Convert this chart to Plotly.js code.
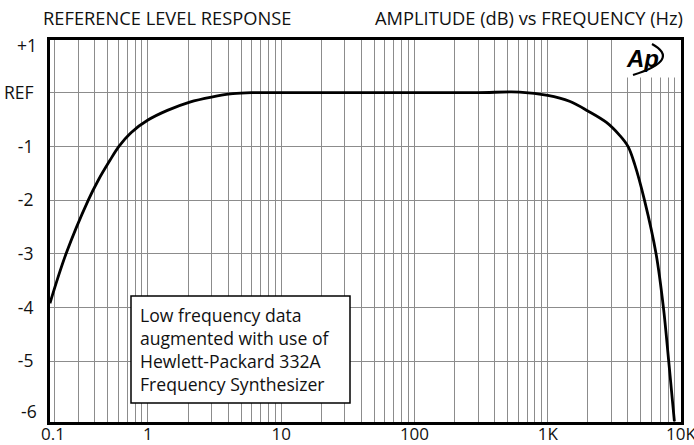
<!DOCTYPE html>
<html>
<head>
<meta charset="utf-8">
<script src="https://cdn.plot.ly/plotly-3.0.1.min.js"></script>
<style>
  html, body { margin: 0; padding: 0; background: #ffffff; }
  #chart { width: 694px; height: 445px; }
</style>
</head>
<body>
<div id="chart"></div>
<script>
// ---- data ----
const freqHz = [0.184, 0.243, 0.357, 0.424, 0.519, 0.606, 0.75, 1.0, 1.4, 2.06, 3.0, 4.34, 6, 10, 30, 100, 300, 615, 1000, 1457, 2000, 2743, 3453, 4000, 4500, 5320, 6500, 7380, 8090, 8920];
const levelDb = [-3.92, -3.0, -2.0, -1.63, -1.26, -1.0, -0.74, -0.51, -0.33, -0.175, -0.082, -0.02, 0, 0, 0, 0, 0, 0.01, -0.05, -0.16, -0.34, -0.55, -0.79, -1.0, -1.34, -2.0, -3.0, -4.0, -5.0, -6.12];

// axis ticks
const xTickFreqs = [1, 10, 100, 1000, 10000];
const xTickLabels = ['1', '10', '100', '1K', '10K'];
const xEdgeLabel = '0.1';
const xLeftEdgeHz = 0.1842;
const xRightEdgeHz = 10000;
const gridDigits = [1, 2, 3, 4, 5, 6, 7, 8, 9];
const gridDecades = [0.1, 1, 10, 100, 1000];

const yTickVals = [0, -1, -2, -3, -4, -5];
const yTickLabels = ['REF', '-1', '-2', '-3', '-4', '-5'];
const yTopLabel = '+1';
const yBottomLabel = '-6';
const yRange = [-6.13, 0.98];

const titleLeft = 'REFERENCE LEVEL RESPONSE';
const titleRight = 'AMPLITUDE (dB) vs FREQUENCY (Hz)';
const noteLines = ['Low frequency data', 'augmented with use of', 'Hewlett-Packard 332A', 'Frequency Synthesizer'];

// ---- build grid tick list ----
const gridFreqs = [];
gridDecades.forEach(d => gridDigits.forEach(k => {
  const f = +(k * d).toPrecision(6);
  if (f > xLeftEdgeHz) gridFreqs.push(f);
}));
gridFreqs.push(xRightEdgeHz);
const gridText = gridFreqs.map(f => {
  const i = xTickFreqs.indexOf(f);
  return i >= 0 ? xTickLabels[i] : '';
});

const FONT = 'Open Sans, Noto Sans, sans-serif';
const GRID = '#8c8c8c';
const TXT = '#111111';

// plot area in pixels: x 50..681, y 40..422
const W = 694, H = 445, ML = 50, MR = 13, MT = 40, MB = 23;
const PW = W - ML - MR, PH = H - MT - MB;
const px = x => (x - ML) / PW;
const py = y => (H - MB - y) / PH;

const trace = {
  x: freqHz, y: levelDb, type: 'scatter', mode: 'lines',
  line: { color: '#000000', width: 2.8, shape: 'spline', smoothing: 1 },
  hoverinfo: 'skip', showlegend: false
};

const annotations = [
  { text: titleLeft, xref: 'paper', yref: 'paper', x: px(41), y: py(17), xanchor: 'left', yanchor: 'middle', showarrow: false, font: { family: FONT, size: 18.3, color: TXT } },
  { text: titleRight, xref: 'paper', yref: 'paper', x: px(685), y: py(17), xanchor: 'right', yanchor: 'middle', showarrow: false, font: { family: FONT, size: 18.3, color: TXT } },
  { text: yTopLabel, xref: 'paper', yref: 'paper', x: 0, y: py(45), xanchor: 'right', yanchor: 'middle', xshift: -11, showarrow: false, font: { family: FONT, size: 17.5, color: TXT } },
  { text: yBottomLabel, xref: 'paper', yref: 'paper', x: 0, y: py(411), xanchor: 'right', yanchor: 'middle', xshift: -11, showarrow: false, font: { family: FONT, size: 17.5, color: TXT } },
  { text: xEdgeLabel, xref: 'paper', yref: 'paper', x: px(53), y: py(434), xanchor: 'center', yanchor: 'middle', showarrow: false, font: { family: FONT, size: 17, color: TXT } },
  { text: '<b><i>Ap</i></b>', xref: 'paper', yref: 'paper', x: px(642), y: py(58), xanchor: 'center', yanchor: 'middle', showarrow: false, font: { family: 'Liberation Sans, Arial, sans-serif', size: 24, color: '#000' } },
  { text: noteLines.join('<br>'), xref: 'paper', yref: 'paper', x: px(138), y: py(349), xanchor: 'left', yanchor: 'middle', align: 'left',
    showarrow: false, font: { family: FONT, size: 17.6, color: TXT } }
];

const shapes = [
  // blank area of the logo (grid lines stop there)
  { type: 'rect', xref: 'x', yref: 'y', x0: 3550, x1: xRightEdgeHz, y0: 0.28, y1: yRange[1], fillcolor: '#ffffff', line: { width: 0 }, layer: 'between' },
  // note box
  { type: 'rect', xref: 'paper', yref: 'paper', x0: px(131), x1: px(350), y0: py(403), y1: py(296), fillcolor: '#ffffff', line: { color: '#000', width: 1.5 }, layer: 'above' },
  // logo swoosh
  { type: 'path', xref: 'paper', yref: 'paper', path: `M ${px(652)} ${py(44)} Q ${px(681)} ${py(60)} ${px(633)} ${py(75)}`, line: { color: '#000', width: 2.2 }, layer: 'above' }
];

const layout = {
  width: W, height: H,
  margin: { l: ML, r: MR, t: MT, b: MB, pad: 0 },
  paper_bgcolor: '#ffffff', plot_bgcolor: '#ffffff',
  showlegend: false,
  xaxis: {
    type: 'log', range: [Math.log10(xLeftEdgeHz), Math.log10(xRightEdgeHz)],
    tickmode: 'array', tickvals: gridFreqs, ticktext: gridText,
    showgrid: true, gridcolor: GRID, gridwidth: 1, zeroline: false,
    showline: true, mirror: true, linecolor: '#000', linewidth: 3,
    ticks: '', ticklabelstandoff: -5, ticklabeloverflow: 'allow',
    tickfont: { family: FONT, size: 17, color: TXT }, tickangle: 0, automargin: false,
    fixedrange: true
  },
  yaxis: {
    range: yRange,
    tickmode: 'array', tickvals: yTickVals, ticktext: yTickLabels,
    showgrid: true, gridcolor: GRID, gridwidth: 1, zeroline: false,
    showline: true, mirror: true, linecolor: '#000', linewidth: 3,
    ticks: 'outside', ticklen: 10, tickcolor: 'rgba(0,0,0,0)',
    tickfont: { family: FONT, size: 17.5, color: TXT }, automargin: false,
    fixedrange: true
  },
  annotations: annotations,
  shapes: shapes
};

Plotly.newPlot('chart', [trace], layout, { displayModeBar: false, staticPlot: true });
</script>
</body>
</html>
